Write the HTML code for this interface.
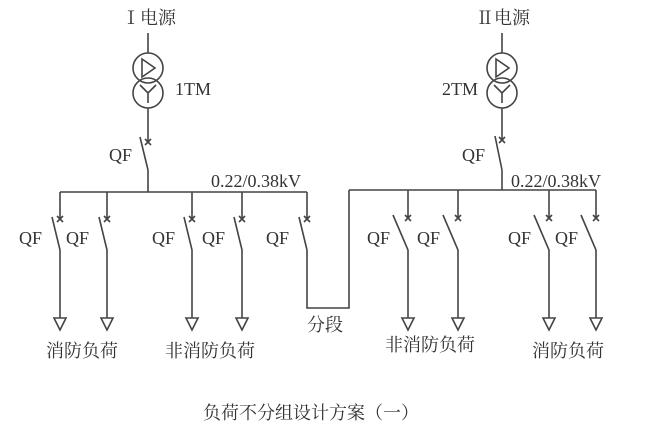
<!DOCTYPE html>
<html><head><meta charset="utf-8"><style>
body{margin:0;background:#fff}
svg text{font-family:"Liberation Serif","Noto Serif CJK SC",serif;fill:#333}
</style></head><body>
<svg width="662" height="441" viewBox="0 0 662 441" xmlns="http://www.w3.org/2000/svg">
<g stroke="#444" stroke-width="1.6" fill="none">
<line x1="148" y1="33" x2="148" y2="53"/>
<circle cx="148" cy="68" r="15"/><circle cx="148" cy="93" r="15"/>
<path d="M142 59 L155 68 L142 77 Z"/>
<path d="M140 85 L148 93 L156 85 M148 93 L148 103"/>
<line x1="148" y1="108" x2="148" y2="142"/>
<path d="M145 139 l6 6 M151 139 l-6 6"/>
<line x1="140" y1="137" x2="148" y2="170"/>
<line x1="148" y1="170" x2="148" y2="192"/>
<line x1="60" y1="192" x2="307" y2="192"/>
<line x1="502" y1="33" x2="502" y2="53"/>
<circle cx="502" cy="68" r="15"/><circle cx="502" cy="93" r="15"/>
<path d="M496 59 L509 68 L496 77 Z"/>
<path d="M494 85 L502 93 L510 85 M502 93 L502 103"/>
<line x1="502" y1="108" x2="502" y2="140"/>
<path d="M499 137 l6 6 M505 137 l-6 6"/>
<line x1="495" y1="136" x2="502" y2="170"/>
<line x1="502" y1="170" x2="502" y2="190"/>
<line x1="349" y1="190" x2="596" y2="190"/>
<path d="M307 250 L307 308 L349 308 L349 190"/>
</g>
<g stroke="#444" stroke-width="1.6" fill="none">
<path d="M60 192 V219 M57 216 l6 6 M63 216 l-6 6 M52 217 L60 250 V318 M54 318 H66 L60 330 Z"/>
<path d="M107 192 V219 M104 216 l6 6 M110 216 l-6 6 M99 217 L107 250 V318 M101 318 H113 L107 330 Z"/>
<path d="M192 192 V219 M189 216 l6 6 M195 216 l-6 6 M184 217 L192 250 V318 M186 318 H198 L192 330 Z"/>
<path d="M242 192 V219 M239 216 l6 6 M245 216 l-6 6 M234 217 L242 250 V318 M236 318 H248 L242 330 Z"/>
<path d="M307 192 V219 M304 216 l6 6 M310 216 l-6 6 M299 217 L307 250"/>
<path d="M408 190 V218 M405 215 l6 6 M411 215 l-6 6 M393 215 L408 250 V318 M402 318 H414 L408 330 Z"/>
<path d="M458 190 V218 M455 215 l6 6 M461 215 l-6 6 M443 215 L458 250 V318 M452 318 H464 L458 330 Z"/>
<path d="M549 190 V218 M546 215 l6 6 M552 215 l-6 6 M534 215 L549 250 V318 M543 318 H555 L549 330 Z"/>
<path d="M596 190 V218 M593 215 l6 6 M599 215 l-6 6 M581 215 L596 250 V318 M590 318 H602 L596 330 Z"/>
</g>
<g font-size="18">
<text x="122" y="24">Ⅰ电源</text>
<text x="476" y="24">Ⅱ电源</text>
<text x="175" y="95">1TM</text>
<text x="442" y="95">2TM</text>
<text x="109" y="161">QF</text>
<text x="462" y="161">QF</text>
<text x="211" y="187">0.22/0.38kV</text>
<text x="511" y="187">0.22/0.38kV</text>
<text x="19" y="244">QF</text><text x="66" y="244">QF</text>
<text x="152" y="244">QF</text><text x="202" y="244">QF</text>
<text x="266" y="244">QF</text>
<text x="367" y="244">QF</text><text x="417" y="244">QF</text>
<text x="508" y="244">QF</text><text x="555" y="244">QF</text>
<text x="46" y="357">消防负荷</text>
<text x="165" y="357">非消防负荷</text>
<text x="307" y="331">分段</text>
<text x="385" y="351">非消防负荷</text>
<text x="532" y="357">消防负荷</text>
<text x="203" y="419">负荷不分组设计方案（一）</text>
</g>
</svg>
</body></html>
